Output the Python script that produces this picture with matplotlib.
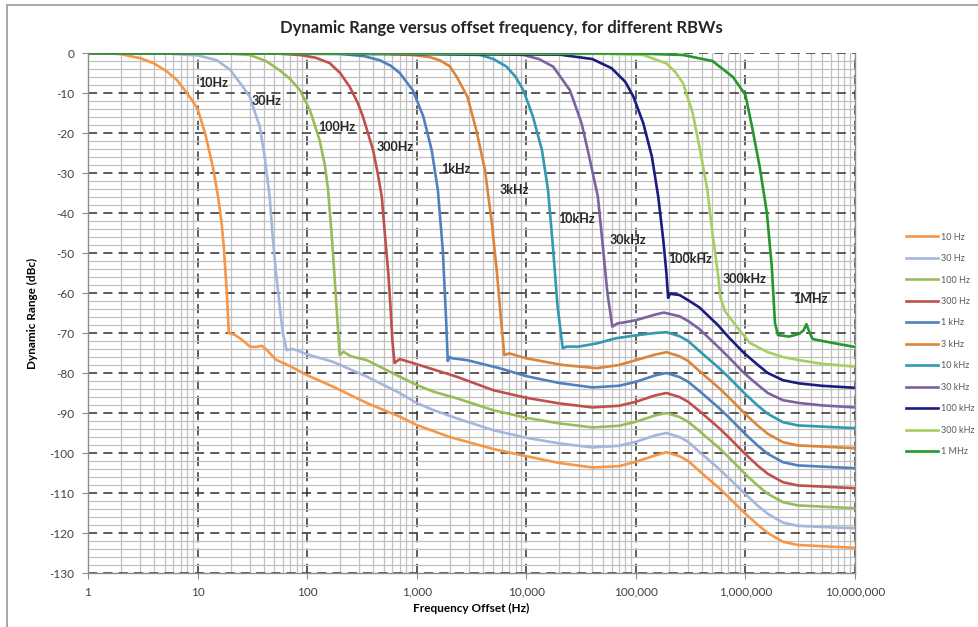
import matplotlib.pyplot as plt
from matplotlib.ticker import LogLocator, MultipleLocator, FuncFormatter, NullFormatter, FixedLocator
from matplotlib.patches import Rectangle

plt.rcParams['font.family'] = ['Lato', 'DejaVu Sans']
plt.rcParams['axes.unicode_minus'] = False

# legend names, on-curve tags and colours
rbw_names = ['10 Hz', '30 Hz', '100 Hz', '300 Hz', '1 kHz', '3 kHz',
             '10 kHz', '30 kHz', '100 kHz', '300 kHz', '1 MHz']
curve_tags = ['10Hz', '30Hz', '100Hz', '300Hz', '1kHz', '3kHz',
              '10kHz', '30kHz', '100kHz', '300kHz', '1MHz']
colors = ['#F79646', '#A3B6DB', '#9BBB59', '#C0504D', '#4F81BD', '#DB853C',
          '#3199B0', '#7B62A0', '#1C1C80', '#A8CD62', '#27962E']

# x tick positions (Hz)
freq_ticks = [1, 10, 100, 1000, 1e4, 1e5, 1e6, 1e7]

# (offset frequency Hz, dynamic range dBc)
pts_10hz = [(1, 0), (1.5, -0.1), (2, -0.3), (3, -1.3), (4, -2.6), (5.3, -4.7), (6.5, -6.8),
            (8, -10), (9, -12), (10, -14), (11.7, -20), (13.8, -28.5), (15.4, -36), (16.5, -42),
            (17.3, -48), (18.5, -60), (19.3, -70), (22, -70.5), (24.3, -71.3), (27, -72.3),
            (30, -73.4), (34, -73.5), (38.6, -73.2), (43, -74.3), (52, -76.7), (70, -78.3),
            (99, -80.5), (172, -83.4), (350, -87.5), (700, -90.9), (1000, -93), (2000, -96),
            (5000, -99), (1e4, -100.8), (2e4, -102.5), (4e4, -103.6), (7e4, -103.3),
            (1e5, -102.2), (1.5e5, -100.6), (1.9e5, -99.8), (2.5e5, -100.8), (3e5, -102),
            (3.8e5, -104.5), (5.6e5, -108.5), (7e5, -111), (1e6, -115.2), (1.3e6, -118),
            (1.6e6, -120), (2.2e6, -122.2), (3e6, -123), (5e6, -123.3), (1e7, -123.7)]
pts_30hz = [(1, 0), (5, -0.1), (10, -0.6), (15, -1.8), (19.8, -4.2), (26, -8.5), (30, -11),
            (37, -18.5), (41, -26), (45.5, -36), (48.5, -46), (52, -55), (56, -63), (60, -70),
            (65, -74.3), (72, -74), (80, -74.3), (99, -75.3), (172, -77.2), (350, -80.9),
            (700, -85), (1000, -87.5), (1400, -89.2), (2300, -91.3), (5000, -94.3),
            (1e4, -96.2), (2e4, -97.6), (4e4, -98.6), (7e4, -98.2), (1e5, -97.2),
            (1.5e5, -95.6), (1.9e5, -95), (2.5e5, -96), (3e5, -97.2), (3.8e5, -99.7),
            (5.6e5, -103.7), (7e5, -106.2), (1e6, -110.3), (1.3e6, -113.2), (1.6e6, -115.2),
            (2.2e6, -117.4), (3e6, -118.2), (5e6, -118.5), (1e7, -118.8)]
pts_100hz = [(1, 0), (10, -0.05), (20, -0.2), (30, -0.5), (42, -2), (56, -4.3), (70, -6.5),
             (86, -9.3), (106, -14.3), (130, -21.8), (145, -28), (155, -34), (168, -46),
             (180, -58), (190, -68), (198, -75.5), (215, -74.7), (250, -75.8), (350, -76.8),
             (700, -80.9), (1000, -83), (1400, -84.6), (2300, -86.3), (5000, -89.3),
             (1e4, -91.2), (2e4, -92.6), (4e4, -93.6), (7e4, -93.2), (1e5, -92.2),
             (1.5e5, -90.6), (1.9e5, -90), (2.5e5, -91), (3e5, -92.2), (3.8e5, -94.5),
             (5.6e5, -98.5), (7e5, -101), (1e6, -105.3), (1.3e6, -108.2), (1.6e6, -110.2),
             (2.2e6, -112.3), (3e6, -113.1), (5e6, -113.4), (1e7, -113.8)]
pts_300hz = [(1, 0), (50, -0.1), (86, -0.5), (120, -1.2), (160, -2.5), (200, -5), (245, -8.5),
             (290, -12.5), (324, -16), (400, -24.3), (440, -30), (480, -36), (515, -46),
             (550, -55), (578, -64), (600, -72), (628, -77.5), (700, -76.5), (800, -77),
             (1000, -77.8), (2300, -80.9), (5000, -84.3), (1e4, -86.2), (2e4, -87.6),
             (4e4, -88.6), (7e4, -88.2), (1e5, -87.2), (1.5e5, -85.6), (1.9e5, -85),
             (2.5e5, -86), (3e5, -87.2), (3.8e5, -89.5), (5.6e5, -93.5), (7e5, -96),
             (1e6, -100.3), (1.3e6, -103.2), (1.6e6, -105.2), (2.2e6, -107.3), (3e6, -108.1),
             (5e6, -108.4), (1e7, -108.8)]
pts_1k = [(1, 0), (200, -0.2), (330, -0.8), (460, -1.8), (580, -3.2), (700, -5), (920, -9.3),
          (1150, -15.9), (1370, -24.3), (1560, -34.3), (1730, -49.3), (1860, -67.5),
          (1920, -77), (2000, -76), (2100, -76.3), (2900, -76.8), (5700, -78.8), (1e4, -80.8),
          (2e4, -82.5), (4e4, -83.6), (7e4, -83.2), (1e5, -82.2), (1.5e5, -80.6),
          (1.9e5, -80), (2.5e5, -81), (3e5, -82.2), (3.8e5, -84.5), (5.6e5, -88.5),
          (7e5, -91), (1e6, -95.3), (1.3e6, -98.2), (1.6e6, -100.2), (2.2e6, -102.3),
          (3e6, -103.1), (5e6, -103.4), (1e7, -103.8)]
pts_3k = [(1, 0), (500, -0.2), (920, -0.5), (1300, -1), (1620, -1.8), (2000, -3.3),
          (2300, -5.8), (2900, -10.9), (3500, -19.3), (4200, -29.3), (4850, -42.6),
          (5400, -55), (6000, -69.3), (6300, -75.5), (7000, -75.1), (9900, -76.3),
          (21500, -78), (44000, -78.8), (70000, -78), (1e5, -76.8), (1.5e5, -75.4),
          (1.9e5, -74.8), (2.5e5, -75.8), (3e5, -77), (3.8e5, -79.5), (5.6e5, -83.5),
          (7e5, -86), (1e6, -90.3), (1.3e6, -93.2), (1.6e6, -95.2), (2.2e6, -97.3),
          (3e6, -98.1), (5e6, -98.4), (1e7, -98.8)]
pts_10k = [(1, 0), (1000, -0.1), (3800, -0.5), (5000, -1.5), (6600, -3.4), (8000, -6),
           (9400, -9.3), (11500, -15.9), (13900, -24.3), (15800, -34.3), (17600, -49.3),
           (19300, -63.4), (21500, -73.8), (23300, -73.4), (30000, -73.4), (44000, -72.6),
           (66000, -71.3), (1e5, -70.6), (1.5e5, -70), (1.9e5, -69.8), (2.5e5, -70.8),
           (3e5, -72), (3.8e5, -74.5), (5.6e5, -78.5), (7e5, -81), (1e6, -85.3),
           (1.3e6, -88.2), (1.6e6, -90.2), (2.2e6, -92.3), (3e6, -93.1), (5e6, -93.4),
           (1e7, -93.8)]
pts_30k = [(1, 0), (5000, -0.2), (9400, -0.5), (13000, -1.5), (17600, -3.4), (25000, -9.3),
           (32000, -17.6), (37500, -25.9), (45000, -35.9), (50000, -48.4), (55000, -60),
           (61000, -68.4), (68000, -67.6), (80000, -67.3), (1e5, -66.8), (1.5e5, -65.4),
           (1.8e5, -64.9), (2.5e5, -65.8), (3e5, -67), (3.8e5, -69), (5.6e5, -73.4),
           (7e5, -76), (9.7e5, -80), (1.3e6, -83), (1.6e6, -85), (2.2e6, -86.8),
           (3.1e6, -87.5), (5e6, -88.1), (1e7, -88.6)]
pts_100k = [(1, 0), (2e4, -0.4), (4e4, -1.5), (6e4, -3.8), (8e4, -7.2), (9.5e4, -10.9),
            (1.17e5, -17.6), (1.4e5, -25.9), (1.6e5, -35.9), (1.78e5, -46.8), (1.9e5, -55),
            (1.97e5, -61.2), (2.05e5, -60.2), (2.5e5, -60.5), (3e5, -61.8), (3.8e5, -63.6),
            (5.6e5, -68), (7e5, -71), (9.7e5, -75), (1.3e6, -78), (1.6e6, -80),
            (2.2e6, -81.8), (3.1e6, -82.6), (5e6, -83.2), (1e7, -83.7)]
pts_300k = [(1, 0), (5e4, -0.2), (1.17e5, -0.5), (1.9e5, -2.6), (2.3e5, -4.8), (2.7e5, -7.6),
            (3.3e5, -15), (3.8e5, -23.4), (4.5e5, -34.3), (5e5, -45), (5.6e5, -55),
            (5.9e5, -61), (6.5e5, -64.5), (8.3e5, -68.4), (1.1e6, -72.5), (1.6e6, -74.8),
            (2.2e6, -76), (3.1e6, -76.8), (5e6, -77.7), (1e7, -78.4)]
pts_1m = [(1, 0), (1e5, -0.1), (2.7e5, -0.5), (5e5, -2), (7.7e5, -6), (1e6, -10.5),
          (1.15e6, -18.5), (1.35e6, -28.5), (1.57e6, -40), (1.74e6, -53.5), (1.86e6, -67.5),
          (1.98e6, -70.5), (2.5e6, -70.9), (3.1e6, -70.2), (3.4e6, -69.3), (3.6e6, -67.8),
          (3.8e6, -69.5), (4.1e6, -71.5), (5.5e6, -72.2), (1e7, -73.5)]

all_series = [pts_10hz, pts_30hz, pts_100hz, pts_300hz, pts_1k, pts_3k,
              pts_10k, pts_30k, pts_100k, pts_300k, pts_1m]

# where the on-curve tags sit (Hz, dBc)
tag_f = [10.1, 31.4, 125, 433, 1660, 5740, 19400, 58000, 196000, 622000, 2.71e6]
tag_db = [-7.5, -12, -18.5, -23.5, -29, -34.25, -41.5, -46.75, -51.5, -56.5, -61.5]

fig = plt.figure(figsize=(9.79, 6.27), dpi=100)
ax = fig.add_axes([88 / 979, 1 - 573 / 627, (855 - 88) / 979, (573 - 53) / 627])

lines = []
for pts, name, col in zip(all_series, rbw_names, colors):
    xs = [p[0] for p in pts]
    ys = [p[1] for p in pts]
    ln, = ax.plot(xs, ys, color=col, lw=1.9, label=name, solid_joinstyle='round')
    lines.append(ln)

for tag, f, d in zip(curve_tags, tag_f, tag_db):
    ax.text(f, d, tag, fontsize=9, fontweight='bold', color='#262626',
            ha='left', va='center')

ax.set_xscale('log')
ax.set_xlim(1, 1e7)
ax.set_ylim(-130, 0)

ax.xaxis.set_major_locator(FixedLocator(freq_ticks))
ax.xaxis.set_minor_locator(LogLocator(base=10, subs=range(2, 10), numticks=100))
ax.xaxis.set_major_formatter(FuncFormatter(lambda v, p: f'{int(round(v)):,}'))
ax.xaxis.set_minor_formatter(NullFormatter())
ax.yaxis.set_major_locator(FixedLocator(range(-130, 1, 10)))
ax.yaxis.set_minor_locator(MultipleLocator(2))

ax.set_axisbelow(True)
ax.grid(which='minor', color='#C0C0C0', lw=0.9, ls='-')
ax.grid(which='major', color='#303030', lw=1.1, ls=(0, (6, 4)))

ax.tick_params(which='major', length=4, color='#8C8C8C', labelsize=8.5,
               labelcolor='#404040', pad=6)
ax.tick_params(which='minor', length=0)
for s in ax.spines.values():
    s.set_color('#8C8C8C')
    s.set_linewidth(1.0)
ax.spines['top'].set_visible(False)

ax.set_xlabel('Frequency Offset (Hz)', fontsize=8.5, fontweight='bold', labelpad=4)
ax.set_ylabel('Dynamic Range (dBc)', fontsize=8.5, fontweight='bold', labelpad=8)

fig.text(501 / 979, 1 - 28 / 627, 'Dynamic Range versus offset frequency, for different RBWs',
         ha='center', va='center', fontsize=12, fontweight='bold', color='#262626')

fig.legend(handles=lines, loc='upper left', bbox_to_anchor=(902 / 979, 1 - 229 / 627),
           frameon=False, fontsize=6.5, labelcolor='#595959', handlelength=3.6,
           handletextpad=0.3, labelspacing=1.38, borderaxespad=0)

fig.add_artist(Rectangle((7 / 979, -0.1), 1.2, 1.1 - 5 / 627, transform=fig.transFigure,
                         fill=False, edgecolor='#A0A0A0', lw=1.3))

fig.savefig('out.png', dpi=100)
